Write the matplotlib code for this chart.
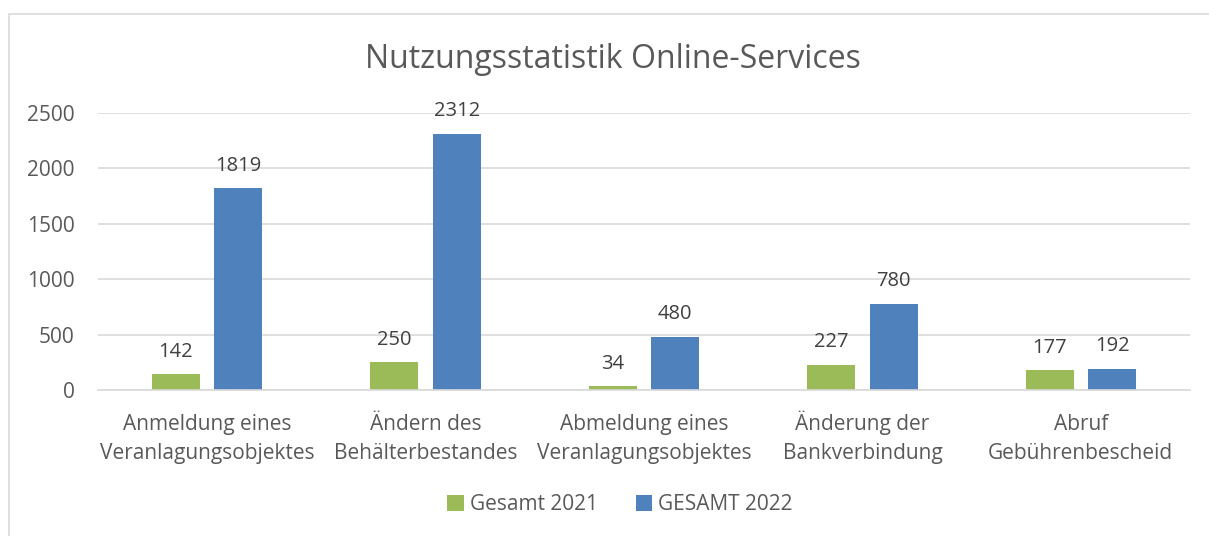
import matplotlib
matplotlib.use('Agg')
import matplotlib.pyplot as plt
import matplotlib.transforms as mtransforms
from matplotlib.patches import Rectangle
import numpy as np

plt.rcParams['font.family'] = ['Open Sans', 'DejaVu Sans']

categories = ['Anmeldung eines\nVeranlagungsobjektes', 'Ändern des\nBehälterbestandes',
              'Abmeldung eines\nVeranlagungsobjektes', 'Änderung der\nBankverbindung',
              'Abruf\nGebührenbescheid']
gesamt_2021 = [142, 250, 34, 227, 177]
gesamt_2022 = [1819, 2312, 480, 780, 192]
series_names = ['Gesamt 2021', 'GESAMT 2022']
yticks = [0, 500, 1000, 1500, 2000, 2500]

green = '#9bbb59'
blue = '#4f81bd'
grey = '#595959'

fig = plt.figure(figsize=(12.09, 5.36), dpi=100)
fig.patches.append(Rectangle((9 / 1209, -0.1), 1.2, 1 - 14 / 536 + 0.1, transform=fig.transFigure,
                             fill=False, edgecolor='#d9d9d9', linewidth=1.2))
ax = fig.add_axes([98 / 1209, 146 / 536, 1092 / 1209, 277 / 536])

x = np.arange(len(categories))
w = 0.22
off = 0.143
b1 = ax.bar(x - off, gesamt_2021, w, color=green, label=series_names[0])
b2 = ax.bar(x + off, gesamt_2022, w, color=blue, label=series_names[1])
for bars in (b1, b2):
    ax.bar_label(bars, padding=9, fontsize=14.5, color='#404040')

ax.set_xlim(-0.5, len(categories) - 0.5)
ax.set_ylim(0, 2500)
ax.set_yticks(yticks)
ax.set_xticks(x)
ax.set_xticklabels([])
ax.tick_params(axis='y', labelsize=15, labelcolor=grey, length=0, pad=17)
ax.tick_params(axis='x', length=0)
ax.grid(axis='y', color='#d9d9d9', linewidth=1.2)
ax.set_axisbelow(True)
for s in ['top', 'right', 'left']:
    ax.spines[s].set_visible(False)
ax.spines['bottom'].set_color('#d9d9d9')
ax.spines['bottom'].set_linewidth(1.2)

# category labels, one text per line so baselines line up
base = ax.get_xaxis_transform()
for xi, lab in zip(x, categories):
    for k, line in enumerate(lab.split('\n')):
        tr = mtransforms.offset_copy(base, fig=fig, x=0, y=-29 - 20.5 * k, units='points')
        ax.text(xi, 0, line, transform=tr, ha='center', va='baseline', fontsize=15, color=grey)

fig.text(613 / 1209, 1 - 60 / 536, 'Nutzungsstatistik Online-Services', ha='center', va='center',
         fontsize=23, color=grey)
fig.legend(loc='center', bbox_to_anchor=(620 / 1209, 1 - 505 / 536), ncol=2, frameon=False,
           fontsize=15, labelcolor=grey, handlelength=0.8, handleheight=0.8,
           columnspacing=1.8, handletextpad=0.3)

fig.savefig('out.png', dpi=100)
